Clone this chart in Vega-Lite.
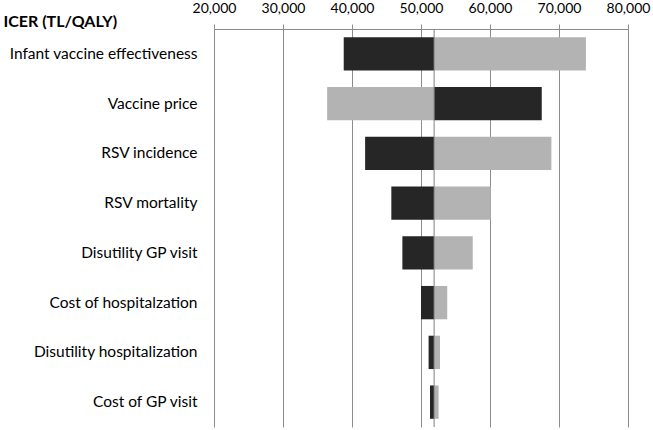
{
  "$schema": "https://vega.github.io/schema/vega-lite/v6.json",
  "width": 414,
  "height": 398,
  "autosize": {"type": "none"},
  "padding": {"left": 214, "top": 29, "right": 25, "bottom": 3},
  "background": "white",
  "config": {"view": {"stroke": null}, "font": "Lato"},
  "data": {
    "values": [
      {"parameter": "Infant vaccine effectiveness", "level": "Low", "value": 38800, "base": 51900},
      {"parameter": "Infant vaccine effectiveness", "level": "High", "value": 73900, "base": 51900},
      {"parameter": "Vaccine price", "level": "Low", "value": 67500, "base": 51900},
      {"parameter": "Vaccine price", "level": "High", "value": 36400, "base": 51900},
      {"parameter": "RSV incidence", "level": "Low", "value": 41900, "base": 51900},
      {"parameter": "RSV incidence", "level": "High", "value": 68900, "base": 51900},
      {"parameter": "RSV mortality", "level": "Low", "value": 45700, "base": 51900},
      {"parameter": "RSV mortality", "level": "High", "value": 60100, "base": 51900},
      {"parameter": "Disutility GP visit", "level": "Low", "value": 47300, "base": 51900},
      {"parameter": "Disutility GP visit", "level": "High", "value": 57500, "base": 51900},
      {"parameter": "Cost of hospitalzation", "level": "Low", "value": 50000, "base": 51900},
      {"parameter": "Cost of hospitalzation", "level": "High", "value": 53800, "base": 51900},
      {"parameter": "Disutility hospitalization", "level": "Low", "value": 51100, "base": 51900},
      {"parameter": "Disutility hospitalization", "level": "High", "value": 52750, "base": 51900},
      {"parameter": "Cost of GP visit", "level": "Low", "value": 51300, "base": 51900},
      {"parameter": "Cost of GP visit", "level": "High", "value": 52550, "base": 51900}
    ]
  },
  "layer": [
    {
      "mark": {"type": "bar"},
      "encoding": {
        "y": {
          "field": "parameter",
          "type": "nominal",
          "sort": null,
          "scale": {"paddingInner": 0.33, "paddingOuter": 0.165},
          "axis": {
            "title": "ICER (TL/QALY)",
            "titleAngle": 0,
            "titleAlign": "left",
            "titleBaseline": "alphabetic",
            "titleX": -211,
            "titleY": -3,
            "titleFont": "Lato",
            "titleFontSize": 16,
            "titleFontWeight": "bold",
            "titleColor": "black",
            "domain": false,
            "ticks": false,
            "labelPadding": 17,
            "labelFontSize": 15.5,
            "labelColor": "black",
            "labelLimit": 250
          }
        },
        "x": {
          "field": "value",
          "type": "quantitative",
          "scale": {"domain": [20000, 80000], "nice": false, "zero": false},
          "axis": {
            "orient": "top",
            "values": [20000, 30000, 40000, 50000, 60000, 70000, 80000],
            "format": ",.0f",
            "title": null,
            "grid": true,
            "gridColor": "#8c8c8c",
            "gridOpacity": 1,
            "domainColor": "#8c8c8c",
            "tickColor": "#8c8c8c",
            "tickSize": 5,
            "labelFlush": false,
            "labelOverlap": false,
            "labelBound": false,
            "labelPadding": 9,
            "labelFontSize": 14,
            "labelColor": "black"
          }
        },
        "x2": {"field": "base"},
        "color": {
          "field": "level",
          "type": "nominal",
          "scale": {"domain": ["Low", "High"], "range": ["#262626", "#b3b3b3"]},
          "legend": null
        }
      }
    },
    {
      "mark": {"type": "rule", "color": "#7f7f7f", "strokeWidth": 1},
      "encoding": {
        "x": {"aggregate": "mean", "field": "base", "type": "quantitative"}
      }
    }
  ]
}
